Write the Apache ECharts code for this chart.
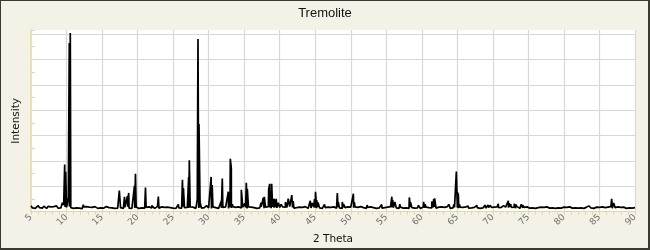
<!DOCTYPE html>
<html><head><meta charset="utf-8">
<script src="https://cdn.jsdelivr.net/npm/echarts@6/dist/echarts.min.js"></script>
<style>
html,body{margin:0;padding:0;background:#f4f2e6;}
#wrap{position:relative;width:650px;height:250px;}
#chart{position:absolute;left:0;top:0;width:650px;height:250px;}
#frame{position:absolute;left:0;top:0;width:650px;height:250px;box-sizing:border-box;border-top:1px solid #3b3a32;border-left:1px solid #3b3a32;border-right:2px solid #3b3a32;border-bottom:2px solid #3b3a32;pointer-events:none;}
</style></head>
<body><div id="wrap"><div id="chart"></div><div id="frame"></div></div>
<script>
// Chart text
var chartTitle = 'Tremolite';
var xAxisName = '2 Theta';
var yAxisName = 'Intensity';

// Baseline intensity, from 2θ = 5.0 in steps of 0.2 up to 90.0
var baselineStart = 5.0;
var baselineStep = 0.2;
var baselineValues = [
  230,150,210,130,190,240,160,200,140,220,170,130,210,150,190,120,200,160,230,140,180,150,210,260,190,
  170,140,200,160,190,130,180,150,210,140,170,120,190,160,200,130,180,150,170,140,200,160,130,190,150,
  180,140,170,200,130,160,190,150,170,130,200,140,180,160,190,130,170,150,200,140,180,130,170,150,190,
  160,130,180,150,200,140,170,130,190,160,150,180,130,170,200,140,160,190,130,170,150,180,140,160,200,
  140,170,130,190,150,180,140,200,160,130,170,150,190,140,180,160,130,200,150,170,140,190,160,130,180,
  150,170,130,190,140,160,200,130,180,150,170,140,190,160,130,180,150,200,140,170,130,190,160,150,180,
  140,170,130,190,150,180,140,160,200,130,170,150,190,160,140,180,150,200,170,140,190,160,180,150,200,
  170,150,190,140,180,160,130,200,150,170,140,190,160,130,180,150,170,140,200,160,130,190,150,170,180,
  160,140,190,150,170,130,200,160,140,180,150,170,130,190,160,140,180,150,200,130,170,160,140,190,150,
  180,140,160,190,130,170,150,200,140,160,180,130,170,150,190,140,160,180,130,200,150,170,140,190,160,
  150,180,140,200,170,160,190,150,170,130,180,160,140,190,150,170,130,180,160,200,140,170,150,190,130,
  170,190,150,180,140,160,200,150,170,190,140,160,180,130,190,150,170,140,200,160,130,180,150,170,200,
  160,140,180,150,170,130,190,160,140,180,150,200,170,140,160,190,130,170,150,180,140,200,160,130,170,
  150,180,140,190,160,130,170,150,200,180,140,160,190,170,150,180,140,200,160,130,180,150,170,140,190,
  160,140,180,150,170,130,190,160,140,180,150,170,130,190,160,140,180,150,200,130,170,150,190,140,160,
  180,150,170,130,190,160,140,180,150,200,140,170,150,190,130,160,180,140,170,150,190,130,160,180,150,
  170,140,190,150,160,130,180,150,200,140,170,160,130,190,150,170,140,180,160,130,190,150,170,140,180,
  160
];

// Peaks: 2θ positions and intensities
var peakAngles = [
  9.41,9.74,9.88,10.25,10.39,10.53,12.36,
  17.43,18.16,18.58,18.75,19.56,19.70,21.11,22.0,22.17,22.92,25.73,26.31,26.45,27.19,27.28,
  28.40,28.50,28.64,28.8,29.7,29.86,30.35,30.50,31.78,31.92,32.77,32.9,33.05,33.19,33.35,
  34.60,35.1,35.30,35.44,37.37,37.69,37.83,38.45,38.59,38.73,38.87,39.0,39.2,39.5,39.8,
  40.2,40.8,41.2,41.70,41.9,43.3,44.3,44.6,44.9,45.04,45.2,45.4,46.3,48.11,48.25,48.8,49.0,
  50.37,50.5,52.3,54.35,55.78,55.9,56.2,56.9,58.24,58.4,59.5,60.25,60.45,61.4,61.67,61.8,
  63.8,64.5,64.86,65.0,65.14,65.3,66.5,67.75,68.9,69.3,69.6,70.76,71.5,72.17,72.3,72.5,
  73.0,73.2,74.0,74.2,75.0,77.7,80.1,83.5,86.72,87.0
];
var peakIntensities = [
  354,1860,1573,550,6645,7040,275,
  830,590,625,740,1015,1494,950,240,263,597,287,1258,930,1370,2030,
  484,6803,3460,354,240,290,1370,1055,420,1310,786,523,2084,1704,300,
  865,330,1140,904,354,550,590,878,1100,814,1100,484,510,510,354,
  290,380,510,655,420,240,432,340,500,787,452,360,290,734,380,380,290,
  708,380,260,280,590,470,380,300,563,370,250,390,290,405,500,530,
  290,290,1585,760,670,290,220,250,260,260,250,315,240,432,340,300,
  315,280,290,260,250,240,250,230,511,340
];

// Axis ticks
var xMin = 5, xMax = 90, xInterval = 5;
var yMin = 0, yMax = 7160, yInterval = 1000;

var points = [];
for (var i = 0; i < baselineValues.length; i++) {
  points.push([+(baselineStart + i * baselineStep).toFixed(2), baselineValues[i]]);
}
for (var j = 0; j < peakAngles.length; j++) {
  points.push([peakAngles[j], peakIntensities[j]]);
}
points.sort(function (a, b) { return a[0] - b[0]; });

var axisYellow = '#e2d9a2';
var chart = echarts.init(document.getElementById('chart'), null, {renderer: 'canvas'});
chart.setOption({
  animation: false,
  backgroundColor: '#f4f2e6',
  title: {
    text: chartTitle, left: 'center', top: 2,
    textStyle: {fontFamily: 'Liberation Sans', fontSize: 13, fontWeight: 'normal', color: '#111'}
  },
  grid: {left: 31, right: 15, top: 30, bottom: 38, show: true, backgroundColor: '#ffffff', borderWidth: 0},
  xAxis: {
    type: 'value', min: xMin, max: xMax, interval: xInterval,
    name: xAxisName, nameLocation: 'middle', nameGap: 18,
    nameTextStyle: {fontFamily: 'DejaVu Sans', fontSize: 10.5, color: '#111'},
    axisLine: {show: true, lineStyle: {color: axisYellow, width: 1}},
    axisTick: {show: true, length: 3, lineStyle: {color: axisYellow}},
    minorTick: {show: true, splitNumber: 5, length: 3, lineStyle: {color: axisYellow}},
    axisLabel: {rotate: 45, fontSize: 9, color: '#6f6f6f', fontFamily: 'DejaVu Sans', margin: 4},
    splitLine: {show: true, showMinLine: false, lineStyle: {color: '#d8d8d8', width: 1.2}}
  },
  yAxis: {
    type: 'value', min: yMin, max: yMax, interval: yInterval,
    name: yAxisName, nameLocation: 'middle', nameGap: 9, nameRotate: 90,
    nameTextStyle: {fontFamily: 'DejaVu Sans', fontSize: 10.5, color: '#111'},
    axisLine: {show: true, lineStyle: {color: axisYellow, width: 1.5}},
    axisTick: {show: true, inside: true, length: 4, lineStyle: {color: axisYellow}},
    minorTick: {show: true, splitNumber: 2, length: 4, lineStyle: {color: axisYellow}},
    axisLabel: {show: false},
    splitLine: {show: true, showMinLine: false, showMaxLine: false, lineStyle: {color: '#d8d8d8', width: 1.2}}
  },
  series: [{
    type: 'line', data: points, showSymbol: false, symbol: 'none',
    lineStyle: {color: '#000', width: 1.7}, silent: true
  }]
});
</script></body></html>
